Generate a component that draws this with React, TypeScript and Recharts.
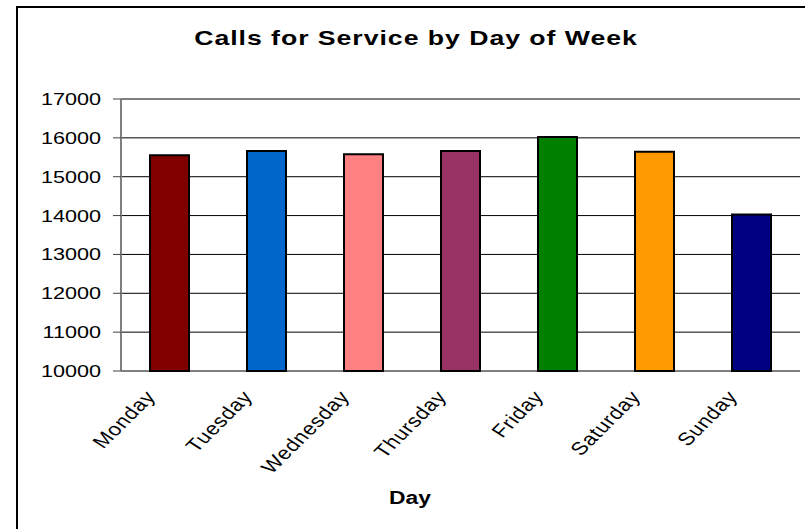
import { BarChart, Bar, Cell, XAxis, YAxis, CartesianGrid } from 'recharts';

const days = ['Monday', 'Tuesday', 'Wednesday', 'Thursday', 'Friday', 'Saturday', 'Sunday'];
const calls = [15550, 15660, 15580, 15660, 16020, 15640, 14030];
const barColors = ['#800000', '#0066CC', '#FF8080', '#993366', '#008000', '#FF9900', '#000080'];
const yTicks = [10000, 11000, 12000, 13000, 14000, 15000, 16000, 17000];
// category boundaries, Excel puts the x ticks between bars
const edgeTicks = [0, 1, 2, 3, 4, 5, 6, 7];

const data = days.map((day, i) => ({ day, calls: calls[i], edge: i }));

const FONT = '"Liberation Sans", Arial, sans-serif';
// the original text is rendered wide, so stretch it a bit
const SX = 1.27;

const DayTick = ({ x, y, payload }: any) => (
  <text
    transform={`translate(${x - 13} ${y + 26}) scale(1.25 1) rotate(-51)`}
    textAnchor="end"
    fontSize={18}
    letterSpacing={0.6}
    fontFamily={FONT}
    fill="#000"
  >
    {payload.value}
  </text>
);

const ValueTick = ({ x, y, payload }: any) => (
  <text
    transform={`translate(${x} ${y}) scale(${SX} 1)`}
    dy={6}
    textAnchor="end"
    fontSize={17}
    fontFamily={FONT}
    fill="#000"
  >
    {payload.value}
  </text>
);

export default function App() {
  return (
    <div style={{ position: 'fixed', left: 0, top: 0, width: 805, height: 529, background: '#fff', overflow: 'hidden' }}>
      <div
        style={{
          position: 'absolute',
          left: 16,
          top: 6,
          width: 900,
          height: 900,
          border: '2px solid #000',
        }}
      />
      <div
        style={{
          position: 'absolute',
          left: 0,
          top: 27,
          width: 832,
          textAlign: 'center',
          fontFamily: FONT,
          fontWeight: 'bold',
          fontSize: 21,
          lineHeight: '21px',
          letterSpacing: 0.75,
          transform: `scaleX(${SX})`,
          transformOrigin: '416px 0',
        }}
      >
        Calls for Service by Day of Week
      </div>
      <BarChart
        width={805}
        height={529}
        data={data}
        margin={{ top: 99, right: 5, bottom: 58, left: 0 }}
        style={{ position: 'absolute', left: 0, top: 0 }}
      >
        <CartesianGrid vertical={false} stroke="#000" strokeWidth={1} />
        <XAxis
          xAxisId="edges"
          type="number"
          dataKey="edge"
          domain={[0, 7]}
          ticks={edgeTicks}
          height={0}
          tick={false}
          tickSize={6}
          tickLine={{ stroke: '#555' }}
          axisLine={{ stroke: '#808080', strokeWidth: 2 }}
        />
        <XAxis
          xAxisId="cat"
          dataKey="day"
          height={100}
          interval={0}
          axisLine={false}
          tickLine={false}
          tickSize={0}
          tickMargin={0}
          tick={<DayTick />}
        />
        <YAxis
          width={121}
          domain={[10000, 17000]}
          ticks={yTicks}
          interval={0}
          tickSize={8}
          tickMargin={12}
          tickLine={{ stroke: '#404040' }}
          axisLine={{ stroke: '#808080', strokeWidth: 2 }}
          tick={<ValueTick />}
        />
        <Bar xAxisId="cat" dataKey="calls" barSize={39} stroke="#000" strokeWidth={2} isAnimationActive={false}>
          {data.map((d, i) => (
            <Cell key={d.day} fill={barColors[i]} />
          ))}
        </Bar>
      </BarChart>
      <div
        style={{
          position: 'absolute',
          left: 0,
          top: 489,
          width: 820,
          textAlign: 'center',
          fontFamily: FONT,
          fontWeight: 'bold',
          fontSize: 18,
          lineHeight: '18px',
          transform: `scaleX(${SX})`,
          transformOrigin: '410px 0',
        }}
      >
        Day
      </div>
    </div>
  );
}
